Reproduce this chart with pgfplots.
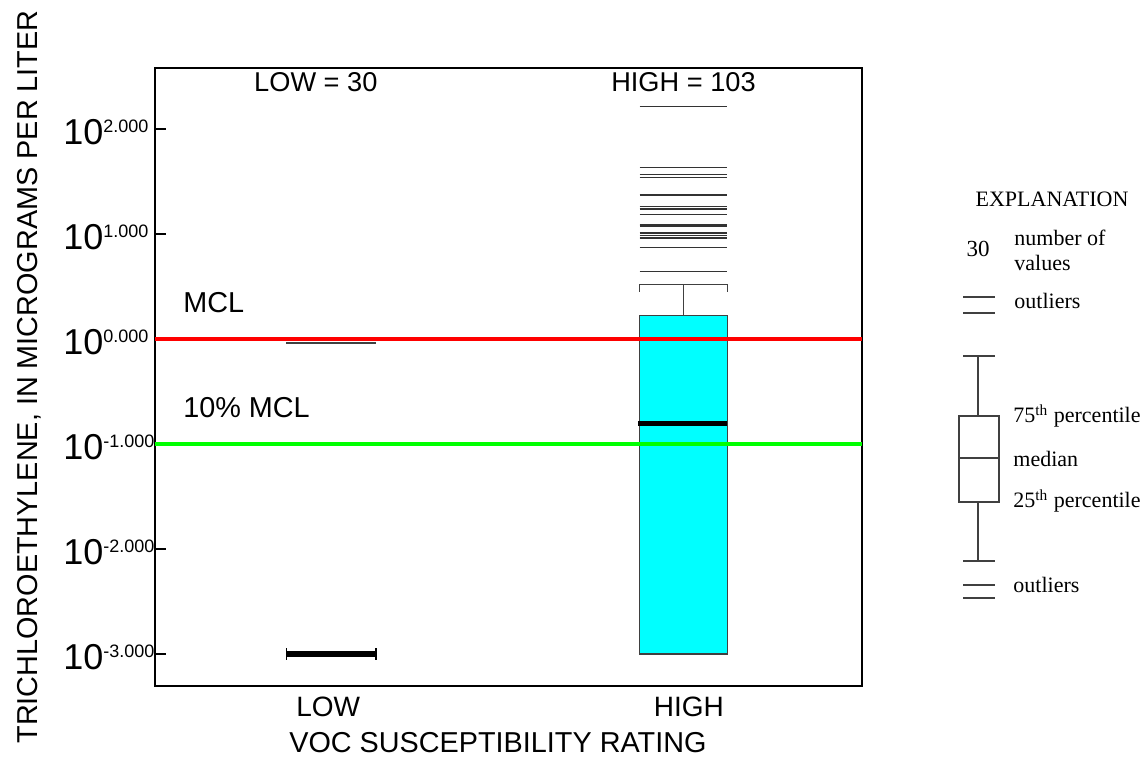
\documentclass[border=0pt]{standalone}
\usepackage{pgfplots}
\pgfplotsset{compat=1.18}
\usepackage{fontspec}
\setmainfont{Liberation Sans}
\newfontfamily\tnr{Liberation Serif}
\newcommand{\tl}[1]{\fontsize{18pt}{18pt}\selectfont 10\raisebox{6pt}{\fontsize{9pt}{9pt}\selectfont #1}}
\definecolor{lgray}{gray}{0.25}
\definecolor{cy}{rgb}{0,1,1}
\definecolor{rd}{rgb}{1,0,0}
\definecolor{gr}{rgb}{0,1,0}
\begin{document}
\begin{tikzpicture}
\path[use as bounding box] (-77.5pt,-36pt) rectangle (495.5pt,343pt);
\begin{axis}[
  at={(0,0)}, anchor=south west,
  scale only axis, width=353.5pt, height=309pt,
  xmin=0.5, xmax=2.5,
  ymode=log, log basis y=10,
  ymin=4.957e-4, ymax=381,
  axis line style={line width=1pt},
  xtick={0.99,2.01}, xticklabels={LOW,HIGH},
  xtick style={draw=none},
  xticklabel style={font=\fontsize{14pt}{14pt}\selectfont, anchor=base, yshift=-15.5pt},
  ytick={0.001,0.01,0.1,1,10,100},
  yticklabels={\tl{-3.000},\tl{-2.000},\tl{-1.000},\tl{0.000},\tl{1.000},\tl{2.000}},
  yticklabel style={anchor=base west, inner sep=0pt, xshift=-46pt, yshift=-8pt},
  yminorticks=false,
  ytick pos=left, tick align=inside,
  major tick length=5.5pt,
  ytick style={line width=0.6pt, black},
  xlabel={VOC SUSCEPTIBILITY RATING},
  xlabel style={at={([yshift=-33.5pt]axis description cs:0.485,0)}, anchor=base, font=\fontsize{14.4pt}{14.4pt}\selectfont},
  ylabel={TRICHLOROETHYLENE, IN MICROGRAMS PER LITER},
  ylabel style={at={([xshift=-58.5pt]axis description cs:0,0.5)}, anchor=base, rotate=0, font=\fontsize{14.4pt}{14.4pt}\selectfont},
]
% HIGH box (25th to 75th percentile)
\addplot[fill=cy, draw=black!75, line width=0.6pt] coordinates {(1.871,0.001) (2.119,0.001) (2.119,1.67) (1.871,1.67)} -- cycle;
% HIGH median
\addplot[black, line width=2.4pt] coordinates {(1.866,0.157) (2.119,0.157)};
% HIGH whisker and cap
\addplot[black!75, line width=0.6pt] coordinates {(1.995,1.67) (1.995,3.32)};
\addplot[black!75, line width=0.6pt] coordinates {(1.871,2.82) (1.871,3.32) (2.119,3.32) (2.119,2.82)};
% HIGH outliers
\addplot[black!80, line width=0.6pt, unbounded coords=jump] table {
x y
1.871 163
2.119 163
nan nan
1.871 43.2
2.119 43.2
nan nan
1.871 37.0
2.119 37.0
nan nan
1.871 34.7
2.119 34.7
nan nan
1.871 23.5
2.119 23.5
nan nan
1.871 18.2
2.119 18.2
nan nan
1.871 17.3
2.119 17.3
nan nan
1.871 15.3
2.119 15.3
nan nan
1.871 12.2
2.119 12.2
nan nan
1.871 11.9
2.119 11.9
nan nan
1.871 10.2
2.119 10.2
nan nan
1.871 9.7
2.119 9.7
nan nan
1.871 9.3
2.119 9.3
nan nan
1.871 9.0
2.119 9.0
nan nan
1.871 7.4
2.119 7.4
nan nan
1.871 4.37
2.119 4.37
};
% LOW: all quartiles at 0.001
\addplot[black, line width=2.8pt] coordinates {(0.871,0.001) (1.125,0.001)};
\addplot[black, line width=0.6pt] coordinates {(0.871,0.000877) (0.871,0.00114)};
\addplot[black, line width=0.6pt] coordinates {(1.125,0.000877) (1.125,0.00114)};
% LOW outlier
\addplot[black!75, line width=0.8pt] coordinates {(0.871,0.916) (1.125,0.916)};
% MCL lines
\addplot[rd, line width=2pt] coordinates {(0.5,1) (2.5,1)};
\addplot[gr, line width=2pt] coordinates {(0.5,0.1) (2.5,0.1)};
\node[anchor=base west, inner sep=0pt, font=\fontsize{14.4pt}{14.4pt}\selectfont] at (axis cs:0.579,1.77) {MCL};
\node[anchor=base west, inner sep=0pt, font=\fontsize{14.4pt}{14.4pt}\selectfont] at (axis cs:0.579,0.177) {10\% MCL};
\node[anchor=base, font=\fontsize{13.6pt}{13.6pt}\selectfont] at (axis cs:0.955,225) {LOW = 30};
\node[anchor=base, font=\fontsize{13.6pt}{13.6pt}\selectfont] at (axis cs:1.995,225) {HIGH = 103};
\end{axis}
% Explanation
\begin{scope}[font=\tnr\fontsize{11pt}{11pt}\selectfont]
\node[anchor=base] at (448.5pt,239.5pt) {EXPLANATION};
\node[anchor=base, font=\tnr\fontsize{11.5pt}{11.5pt}\selectfont] at (411.5pt,214.5pt) {30};
\node[anchor=base west, inner sep=0pt] at (429.5pt,220pt) {number of};
\node[anchor=base west, inner sep=0pt] at (429.5pt,207.5pt) {values};
\draw[lgray, line width=0.6pt] (404pt,194.5pt) -- (420pt,194.5pt) (404pt,186.5pt) -- (420pt,186.5pt);
\node[anchor=base west, inner sep=0pt] at (429.5pt,188.5pt) {outliers};
\draw[lgray, line width=0.6pt] (404pt,165pt) -- (420pt,165pt) (411.5pt,165pt) -- (411.5pt,135pt)
  (402pt,92pt) rectangle (422pt,135pt) (402pt,114pt) -- (422pt,114pt)
  (411.5pt,92pt) -- (411.5pt,62.5pt) (404pt,62.5pt) -- (420pt,62.5pt)
  (404pt,50.5pt) -- (420pt,50.5pt) (404pt,44pt) -- (420pt,44pt);
\node[anchor=base west, inner sep=0pt] at (429pt,131.5pt) {75\textsuperscript{th} percentile};
\node[anchor=base west, inner sep=0pt] at (429pt,109.5pt) {median};
\node[anchor=base west, inner sep=0pt] at (429pt,89pt) {25\textsuperscript{th} percentile};
\node[anchor=base west, inner sep=0pt] at (429pt,46.5pt) {outliers};
\end{scope}
\end{tikzpicture}
\end{document}
